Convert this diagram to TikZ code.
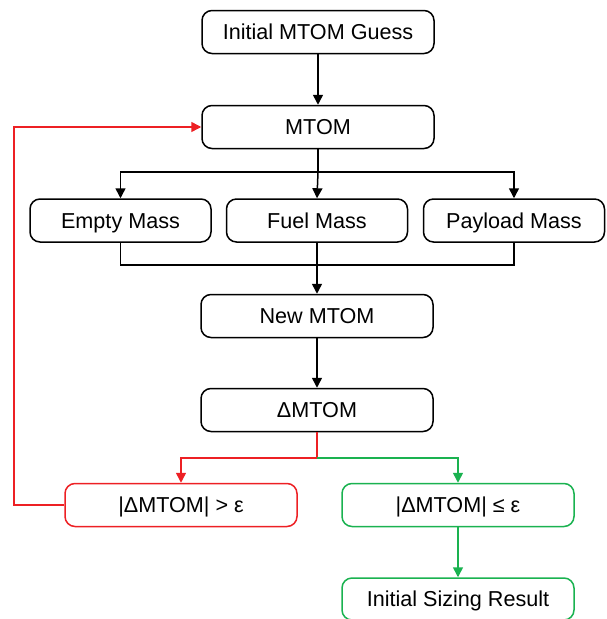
\documentclass[tikz,border=0pt]{standalone}
\usepackage{fontspec}
\setmainfont{Liberation Sans}
\usetikzlibrary{arrows.meta}
\definecolor{cred}{RGB}{237,32,36}
\definecolor{cgreen}{RGB}{26,178,80}
\begin{document}
\begin{tikzpicture}[x=1pt,y=-1pt,
  box/.style={draw, line width=1.5pt, rounded corners=10pt, minimum width=232pt, minimum height=43pt, inner sep=0pt, text height=15.4pt, text depth=0pt, font=\fontsize{21.6}{25}\selectfont},
  smallbox/.style={box, minimum width=181pt},
  conn/.style={line width=1.5pt},
  arr/.style={conn, -{Triangle[length=10pt,width=10pt]}}]
\useasboundingbox (0,0) rectangle (606,619);
\node[box] (init) at (318,32) {Initial MTOM Guess};
\node[box] (mtom) at (318,127) {MTOM};
\node[smallbox] (empty) at (120.5,220.5) {Empty Mass};
\node[smallbox] (fuel) at (317,220.5) {Fuel Mass};
\node[smallbox] (payload) at (514,220.5) {Payload Mass};
\node[box] (new) at (317,316) {New MTOM};
\node[box] (delta) at (317,410) {ΔMTOM};
\node[box, draw=cred] (big) at (181,505) {|ΔMTOM| > ε};
\node[box, draw=cgreen] (small) at (458,505) {|ΔMTOM| ≤ ε};
\node[box, draw=cgreen, minimum height=42pt] (result) at (458,599) {Initial Sizing Result};
\coordinate (split1) at (318,172);
\coordinate (merge) at (317,265);
\coordinate (split2) at (317,458);
\coordinate (loop) at (14,505);
\draw[arr] (init) -- (mtom);
\draw[conn] (mtom.south) -- (split1);
\draw[arr] (split1) -| (empty.north);
\draw[arr] (split1) -| (payload.north);
\draw[arr] (split1) -- (fuel.north);
\draw[conn] (empty.south) |- (merge);
\draw[conn] (payload.south) |- (merge);
\draw[arr] (fuel.south) -- (new.north);
\draw[arr] (new) -- (delta);
\draw[conn, cred] (delta.south) -- (split2);
\draw[arr, cred] (split2) -| (big.north);
\draw[arr, cgreen] (split2) -| (small.north);
\draw[arr, cgreen] (small) -- (result);
\draw[arr, cred] (big.west) -- (loop) |- (mtom.west);
\end{tikzpicture}
\end{document}
